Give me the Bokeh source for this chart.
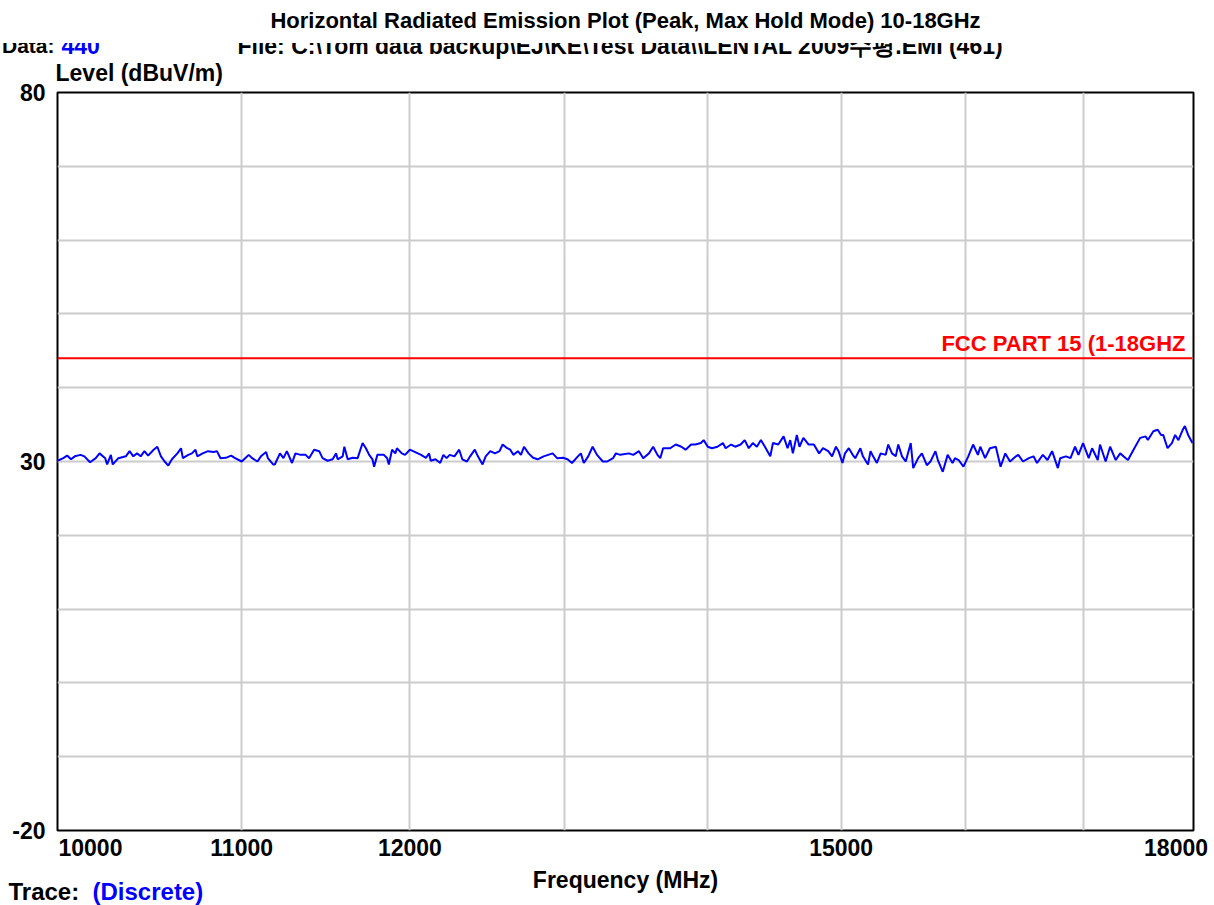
from bokeh.plotting import figure
from bokeh.models import Label, FixedTicker, Range1d, CustomJSTickFormatter, Title
from bokeh.embed import file_html
from bokeh.resources import INLINE

# ---------------- data ----------------
title_text = "Horizontal Radiated Emission Plot (Peak, Max Hold Mode) 10-18GHz"
x_tick_values = [10000, 11000, 12000, 15000, 18000]
y_tick_values = [80, 30, -20]
limit_name = "FCC PART 15 (1-18GHZ"
limit_freq = [10000, 17990]
limit_level = [44, 44]

freq_mhz = [
    10000, 10030, 10050, 10070, 10090, 10120, 10140, 10170, 10200, 10220,
    10250, 10260, 10280, 10290, 10320, 10360, 10380, 10400, 10420, 10440,
    10460, 10480, 10510, 10530, 10550, 10570, 10590, 10610, 10640, 10660,
    10670, 10700, 10720, 10740, 10750, 10780, 10810, 10840, 10860, 10880,
    10910, 10940, 10960, 11000, 11020, 11040, 11060, 11090, 11110, 11140,
    11150, 11180, 11190, 11220, 11240, 11260, 11290, 11310, 11340, 11370,
    11390, 11420, 11450, 11470, 11500, 11530, 11550, 11560,
    11590, 11600, 11620, 11650, 11680, 11710, 11730, 11750, 11770, 11780,
    11800, 11840, 11860, 11870, 11890, 11910, 11920, 11950, 11970, 12000,
    12030, 12070, 12100, 12120, 12130, 12160, 12190, 12210, 12230, 12250,
    12280, 12310, 12330, 12360, 12380, 12410, 12430, 12460, 12480, 12510,
    12540, 12570, 12590, 12620, 12640, 12660, 12690, 12710, 12730, 12760,
    12790, 12820, 12860, 12890, 12920, 12950, 12990, 13020, 13050, 13090,
    13110, 13130, 13160, 13190, 13220, 13260, 13290, 13330, 13350, 13380,
    13440, 13470, 13510, 13540, 13580, 13610, 13640, 13660, 13680, 13730,
    13770, 13810, 13840, 13880, 13910, 13950, 13970, 14000, 14030, 14070,
    14110, 14130, 14170, 14200, 14240, 14270, 14300, 14330, 14360, 14390,
    14420, 14460, 14480, 14520, 14560, 14590, 14610, 14630, 14660, 14680,
    14710, 14750, 14790, 14830, 14860, 14900, 14930, 14960, 14980, 15010,
    15030, 15060, 15090, 15110, 15150, 15170, 15210, 15230, 15250, 15280,
    15310, 15350, 15370, 15400, 15430, 15450, 15480, 15510, 15550, 15570,
    15610, 15640, 15680, 15710, 15750, 15770, 15810, 15850, 15890, 15910,
    15940, 15980, 16020, 16060, 16100, 16120, 16160, 16200, 16250, 16290,
    16330, 16370, 16420, 16440, 16480, 16530, 16570, 16600, 16650, 16690,
    16730, 16780, 16800, 16850, 16890, 16930, 16960, 17000, 17050, 17080,
    17130, 17150, 17200, 17240, 17290, 17330, 17380, 17400, 17450, 17510,
    17560, 17580, 17630, 17670, 17700, 17720, 17760, 17800, 17830, 17860,
    17900, 17920, 17950, 17990,
]

level_dbuv = [
    30.1, 30.45, 30.8, 30.3, 30.7, 30.9, 30.7, 29.9, 30.45, 31.1,
    30.45, 29.6, 30.9, 29.6, 30.45, 30.7, 31.4, 30.7, 31.1, 30.7,
    31.4, 30.8, 31.6, 32.0, 30.7, 30.0, 29.45, 30.3, 31.1, 31.8,
    30.45, 30.9, 31.1, 31.6, 30.7, 31.1, 31.4, 31.3, 31.4, 30.45,
    30.5, 30.8, 30.5, 30.0, 30.45, 30.9, 30.45, 30.0, 30.7, 31.3,
    30.45, 29.6, 29.6, 31.1, 30.45, 31.4, 29.8, 31.1, 30.9, 30.9,
    30.45, 31.6, 31.4, 30.45, 30.1, 30.3, 31.1, 30.3,
    30.7, 32.0, 30.3, 30.5, 30.45, 32.5, 31.8, 30.9, 30.3, 29.3,
    30.9, 30.9, 30.45, 29.6, 31.6, 31.1, 31.8, 31.1, 30.9, 31.6,
    31.3, 30.9, 30.5, 31.1, 30.1, 30.3, 29.8, 30.9, 30.45, 30.9,
    30.7, 31.6, 30.3, 30.0, 30.7, 31.6, 30.7, 29.6, 30.7, 31.4,
    31.1, 31.4, 32.3, 31.8, 31.6, 30.9, 31.4, 30.9, 32.0, 31.1,
    30.5, 30.3, 30.7, 30.9, 31.1, 30.45, 30.5, 30.3, 29.8, 30.7,
    31.1, 29.8, 30.7, 32.0, 30.9, 30.0, 30.0, 30.45, 31.1, 30.9,
    31.1, 30.9, 31.4, 30.45, 31.1, 32.0, 30.9, 30.45, 31.8, 31.8,
    32.3, 32.0, 31.6, 32.3, 32.3, 32.5, 32.9, 32.0, 31.8, 32.0,
    32.5, 31.8, 32.3, 32.0, 32.3, 32.9, 31.8, 32.5, 32.0, 32.9,
    32.0, 30.7, 32.5, 32.3, 33.4, 31.8, 32.9, 31.1, 33.6, 32.0,
    33.2, 32.3, 32.3, 31.1, 31.8, 31.4, 30.7, 32.0, 31.4, 29.8,
    31.1, 31.8, 30.9, 30.45, 31.8, 30.7, 29.6, 31.4, 30.7, 29.8,
    31.1, 30.9, 32.3, 31.1, 30.7, 32.3, 30.7, 30.0, 32.5, 29.1,
    30.45, 31.1, 29.5, 30.0, 31.4, 30.2, 28.6, 30.9, 29.8, 30.45,
    30.2, 29.3, 30.7, 32.3, 30.9, 32.0, 30.45, 31.8, 32.0, 29.3,
    31.1, 30.0, 30.7, 30.9, 30.0, 30.45, 30.7, 29.8, 30.9, 30.2,
    31.4, 29.1, 30.45, 30.7, 30.45, 32.0, 30.9, 32.5, 30.45, 31.8,
    30.2, 32.3, 30.0, 32.0, 30.2, 31.1, 30.45, 30.2, 31.6, 33.2,
    33.4, 32.9, 34.1, 34.3, 33.6, 33.6, 31.8, 32.5, 33.6, 32.9,
    34.3, 34.8, 33.6, 32.5,
]

# ---------------- layout constants ----------------
# where each x tick label is anchored (the end labels sit inside the frame, as in the original)
x_label_anchor = [10172, 11000, 12000, 15000, 17838]

BOLD = "bold"
SANS = "Liberation Sans"

p = figure(
    width=1214, height=905,
    x_axis_type="log",
    x_range=Range1d(10000, 18000), y_range=Range1d(-20, 80),
    output_backend="svg", toolbar_location=None,
    min_border_left=57, min_border_right=21, min_border_top=92, min_border_bottom=75,
)
p.background_fill_color = "white"
p.border_fill_color = "white"
p.outline_line_color = "black"
p.outline_line_width = 2

# grid
p.xgrid.ticker = FixedTicker(ticks=[11000, 12000, 13000, 14000, 15000, 16000, 17000])
p.ygrid.ticker = FixedTicker(ticks=list(range(-10, 80, 10)))
for g in (p.xgrid, p.ygrid):
    g.grid_line_color = "#cccccc"
    g.grid_line_width = 2

# axes
p.xaxis.ticker = FixedTicker(ticks=x_label_anchor)
p.yaxis.ticker = FixedTicker(ticks=y_tick_values)
for ax in (p.xaxis, p.yaxis):
    ax.axis_line_color = None
    ax.major_tick_line_color = None
    ax.minor_tick_line_color = None
    ax.major_tick_out = 0
    ax.major_tick_in = 0
    ax.minor_tick_out = 0
    ax.minor_tick_in = 0
    ax.major_label_text_font = SANS
    ax.major_label_text_font_style = BOLD
    ax.major_label_text_font_size = "23px"
    ax.major_label_text_color = "black"
p.xaxis.major_label_standoff = 8
p.yaxis.major_label_standoff = 12
p.xaxis.formatter = CustomJSTickFormatter(
    args=dict(pos=x_label_anchor, txt=[str(v) for v in x_tick_values]),
    code="const i = pos.indexOf(tick); return i >= 0 ? txt[i] : String(Math.round(tick));")
p.yaxis.formatter = CustomJSTickFormatter(code="return Math.round(tick).toString();")

# data
p.line(freq_mhz, level_dbuv, line_color="#0000ff", line_width=2)
p.line(limit_freq, limit_level, line_color="#ff0000", line_width=2)

# limit line name (inside the frame)
p.add_layout(Label(x=1128, y=487, x_units="screen", y_units="screen", text=limit_name,
                   text_font=SANS, text_font_style=BOLD, text_font_size="22px",
                   text_color="#ff0000", text_align="right", text_baseline="middle"))

# ---- texts outside the frame: stacked Titles in the side panels ----
def zh(px):  # standoff that makes a title row (nearly) zero-height
    return -(2 + round(1.15 * px))

def spacer(side, height):
    p.add_layout(Title(text=" ", text_font_size="1px", standoff=height - 3), side)

def ttl(side, text, px, align, offset, valign="middle", color="black", font=SANS, **kw):
    p.add_layout(Title(text=text, text_font=font, text_font_size=f"{px}px",
                       text_font_style=BOLD, text_color=color, align=align,
                       vertical_align=valign, offset=offset, standoff=zh(px), **kw), side)

# above (from the frame outwards)
spacer("above", 20)
ttl("above", "Level (dBuV/m)", 23, "left", -2)
spacer("above", 27)
ttl("above", "Data:", 21, "right", 1139)
ttl("above", "440", 23, "left", 4, color="#0000ff")
ttl("above", "File: C:\\Tom data backup\\EJ\\KE\\Test Data\\\\LENTAL 2009\uc218\ud3c9.EMI  (461)",
    23, "left", 180)
spacer("above", 15)
ttl("above", title_text, 22, "center", -3,
    background_fill_color="white",
    padding=dict(left=300, right=300, top=6, bottom=10))

# below (from the x axis outwards)
spacer("below", 21)
ttl("below", "Frequency (MHz)", 23, "center", -1)
spacer("below", 12)
ttl("below", "Trace:", 24, "left", -49)
ttl("below", "(Discrete)", 24, "left", 35, color="#0000ff")

open("out.html", "w").write(file_html(p, INLINE))
